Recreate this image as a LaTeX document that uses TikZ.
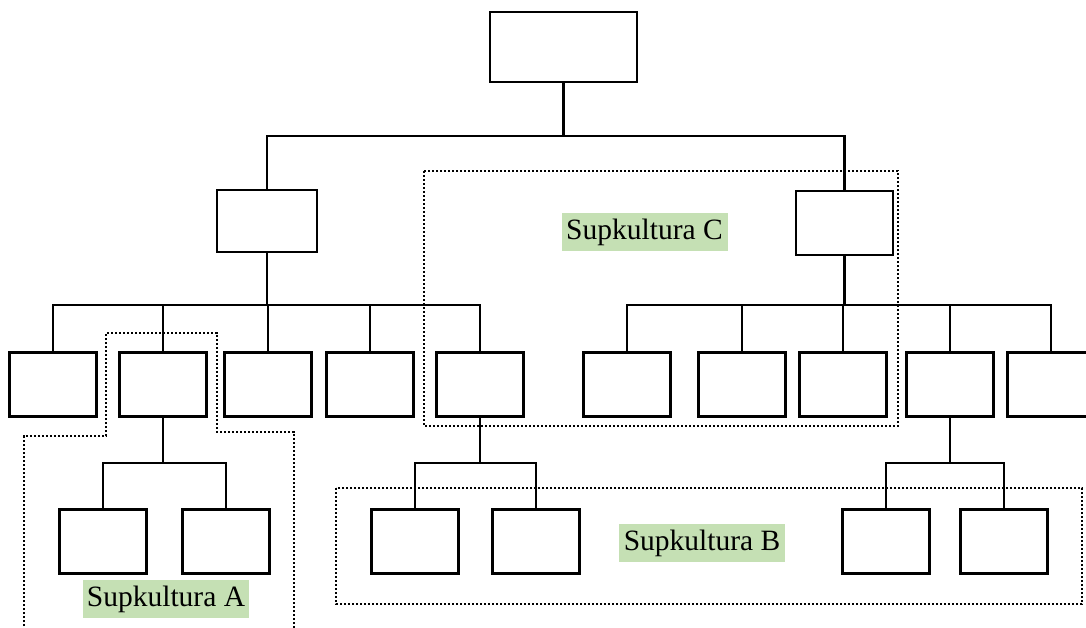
\documentclass[tikz,border=0pt]{standalone}
\usepackage{fontspec}
\setmainfont{Liberation Serif}
\begin{document}
\begin{tikzpicture}[x=1pt,y=-1pt,
  box/.style={draw=black,line width=2.6pt,fill=white,inner sep=0pt,minimum width=87pt,minimum height=64pt},
  conn/.style={draw=black,line width=2.2pt},
  group/.style={draw=black,line width=2.4pt,dash pattern=on 2.2pt off 1.8pt},
  lbl/.style={fill=labelgreen,inner sep=0pt,minimum width=166pt,minimum height=38pt,font=\fontsize{29.5}{34}\selectfont}]
\definecolor{labelgreen}{HTML}{C5E0B4}
\useasboundingbox (0,0) rectangle (1086,628);
\clip (0,0) rectangle (1086,628);
% group outlines
\draw[group] (424,171) rectangle (898,426);
\draw[group] (336,488) rectangle (1082,604);
\draw[group] (24,630) -- (24,436) -- (106,436) -- (106,333) -- (217,333) -- (217,432) -- (294,432) -- (294,630);
% boxes
\node[box,minimum width=147pt,minimum height=70pt] (top) at (563.5,47) {};
\node[box,minimum width=100pt,minimum height=62pt] (m1) at (267,221) {};
\node[box,minimum width=97pt] (m2) at (844.5,223) {};
\foreach \n/\x in {b1/53,b2/163,b3/268,b4/370,b5/480,b6/627,b7/742,b8/843,b9/950,b10/1051}
  \node[box] (\n) at (\x,384.5) {};
\foreach \n/\x in {a1/103,a2/226,c1/415,c2/536,r1/886,r2/1004}
  \node[box] (\n) at (\x,541.5) {};
% connectors
\coordinate (l1) at (0,136);
\coordinate (l2) at (0,305);
\coordinate (l3) at (0,463);
\draw[conn] (top.south) -- (top.south |- l1);
\draw[conn] (m1.north) -- (m1.north |- l1) -- (m2.north |- l1) -- (m2.north);
\draw[conn] (m1.south) -- (m1.south |- l2);
\draw[conn] (b1.north) -- (b1.north |- l2) -- (b5.north |- l2) -- (b5.north);
\foreach \n in {b2,b3,b4} \draw[conn] (\n.north) -- (\n.north |- l2);
\draw[conn] (m2.south) -- (m2.south |- l2);
\draw[conn] (b6.north) -- (b6.north |- l2) -- (b10.north |- l2) -- (b10.north);
\foreach \n in {b7,b8,b9} \draw[conn] (\n.north) -- (\n.north |- l2);
\draw[conn] (b2.south) -- (b2.south |- l3);
\draw[conn] (a1.north) -- (a1.north |- l3) -- (a2.north |- l3) -- (a2.north);
\draw[conn] (b5.south) -- (b5.south |- l3);
\draw[conn] (c1.north) -- (c1.north |- l3) -- (c2.north |- l3) -- (c2.north);
\draw[conn] (b9.south) -- (b9.south |- l3);
\draw[conn] (r1.north) -- (r1.north |- l3) -- (r2.north |- l3) -- (r2.north);
% labels
\node[lbl] (la) at (166,599) {Supkultura A};
\node[lbl] (lb) at (702,543) {Supkultura B};
\node[lbl] (lc) at (644.5,232.5) {Supkultura C};
\end{tikzpicture}
\end{document}
